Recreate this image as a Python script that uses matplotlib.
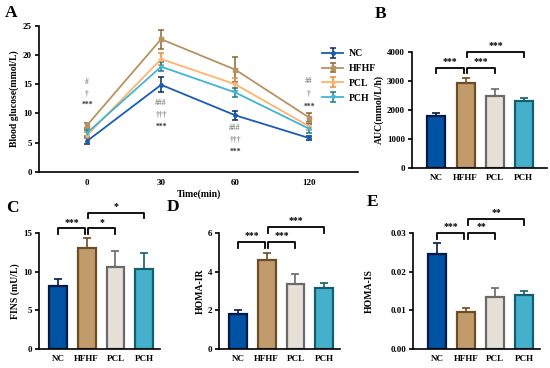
import matplotlib
matplotlib.use('Agg')
import matplotlib.pyplot as plt
import numpy as np

plt.rcParams['font.family'] = ['Liberation Serif', 'DejaVu Serif']
plt.rcParams['font.weight'] = 'bold'
plt.rcParams['axes.labelweight'] = 'bold'

groups = ['NC', 'HFHF', 'PCL', 'PCH']
times = ['0', '30', '60', '120']

# OGTT curves (mean, sd)
glu_mean = {
    'NC': [5.3, 14.9, 9.7, 5.8],
    'HFHF': [8.0, 22.7, 17.5, 9.3],
    'PCL': [6.3, 19.3, 15.0, 7.8],
    'PCH': [6.7, 18.0, 13.6, 7.4],
}
glu_sd = {
    'NC': [0.5, 1.3, 0.8, 0.4],
    'HFHF': [0.4, 1.6, 2.1, 0.7],
    'PCL': [0.5, 1.0, 1.1, 0.6],
    'PCH': [0.5, 0.8, 0.8, 0.8],
}
# significance marks on panel A: (time index, label, y)
glu_marks = [
    (0, '#', 15.4), (0, '†', 13.4), (0, '***', 11.4),
    (1, '###', 11.8), (1, '†††', 9.8), (1, '***', 7.8),
    (2, '###', 7.5), (2, '†††', 5.5), (2, '***', 3.4),
    (3, '##', 15.5), (3, '†', 13.4), (3, '***', 11.2),
]

auc_mean = [1790, 2920, 2490, 2300]
auc_sd = [110, 190, 240, 110]
fins_mean = [8.1, 13.0, 10.6, 10.4]
fins_sd = [0.9, 1.3, 2.1, 2.0]
ir_mean = [1.8, 4.58, 3.35, 3.15]
ir_sd = [0.2, 0.4, 0.55, 0.25]
is_mean = [0.0245, 0.0096, 0.0134, 0.0140]
is_sd = [0.0028, 0.0009, 0.0025, 0.0011]

line_col = {'NC': '#1a5cb0', 'HFHF': '#b8935f', 'PCL': '#ffb36e', 'PCH': '#3fb5d6'}
err_col = {'NC': '#0a2a60', 'HFHF': '#8a6535', 'PCL': '#e89040', 'PCH': '#1d7a8a'}
markers = {'NC': 'o', 'HFHF': 's', 'PCL': 'P', 'PCH': 'v'}
bar_face = ['#0052a2', '#c19b6c', '#e6e0d6', '#45b0cc']
bar_edge = ['#001a48', '#6e4d24', '#6a6a6a', '#145f6e']

W, H = 550, 368
fig = plt.figure(figsize=(5.5, 3.68), dpi=100)


def px_axes(left, right, top, bottom):
    return fig.add_axes([left / W, 1 - bottom / H, (right - left) / W, (bottom - top) / H])


def style(ax):
    for s in ['top', 'right']:
        ax.spines[s].set_visible(False)
    for s in ['left', 'bottom']:
        ax.spines[s].set_linewidth(1.2)
    ax.tick_params(width=1.2, length=3, labelsize=6.5, pad=2)


def bracket(ax, x1, x2, y, h, label):
    ax.plot([x1, x1, x2, x2], [y - h, y, y, y - h], color='black', lw=1.3, clip_on=False)
    ax.text((x1 + x2) / 2, y + h * 0.3, label, ha='center', va='bottom', fontsize=7, clip_on=False)


def bar_panel(ax, mean, sd, ymax, yticks, ylabel, ticklabels=None):
    x = np.arange(len(groups))
    ax.bar(x, mean, width=0.62, color=bar_face, edgecolor=bar_edge, linewidth=1.6, zorder=2)
    for i in range(len(groups)):
        ax.errorbar(x[i], mean[i], yerr=[[0], [sd[i]]], color=bar_edge[i], capsize=3,
                    elinewidth=1.2, capthick=1.2, zorder=1)
    style(ax)
    ax.set_ylim(0, ymax)
    ax.set_yticks(yticks)
    if ticklabels is not None:
        ax.set_yticklabels(ticklabels)
    ax.set_xticks(x)
    ax.set_xticklabels(groups)
    ax.tick_params(axis='x', length=0, pad=4)
    ax.set_ylabel(ylabel, fontsize=7, labelpad=2)


# Panel A
axA = px_axes(39, 358, 25.7, 172)
xi = np.arange(len(times))
for g in groups:
    axA.errorbar(xi, glu_mean[g], yerr=glu_sd[g], color=line_col[g], ecolor=err_col[g],
                 marker=markers[g], markersize=2.5, lw=1.3, capsize=2, elinewidth=1.1,
                 capthick=1.1, label=g)
for t, lab, y in glu_marks:
    col = '#333333' if lab == '***' else '#888888'
    axA.text(t, y, lab, ha='center', va='center', fontsize=5.5, color=col)
style(axA)
axA.set_ylim(0, 25)
axA.set_yticks([0, 5, 10, 15, 20, 25])
axA.set_xlim(-0.65, 3.66)
axA.set_xticks(xi)
axA.set_xticklabels(times)
axA.tick_params(axis='x', length=0, pad=5)
axA.set_xlabel('Time(min)', fontsize=7, labelpad=2)
axA.set_ylabel('Blood glucose(mmol/L)', fontsize=7, labelpad=3)
leg = axA.legend(loc='upper left', bbox_to_anchor=(0.86, 0.9), frameon=False, fontsize=7,
                 handlelength=2.2, labelspacing=0.6, handletextpad=0.6)

# Panel B
axB = px_axes(412, 547, 52, 168)
bar_panel(axB, auc_mean, auc_sd, 4000, [0, 1000, 2000, 3000, 4000], 'AUC(mmol/L/h)')
axB.set_xlim(-0.84, 3.8)
bracket(axB, 0, 0.94, 3450, 180, '***')
bracket(axB, 1.06, 2, 3450, 180, '***')
bracket(axB, 1.06, 3, 4000, 180, '***')

# Panel C
axC = px_axes(39, 160, 233, 349)
bar_panel(axC, fins_mean, fins_sd, 15, [0, 5, 10, 15], 'FINS (mU/L)')
axC.set_xlim(-0.66, 3.55)
bracket(axC, 0, 0.94, 15.6, 0.7, '***')
bracket(axC, 1.06, 2, 15.6, 0.7, '*')
bracket(axC, 1.06, 3, 17.6, 0.7, '*')

# Panel D
axD = px_axes(219, 340, 233, 349)
bar_panel(axD, ir_mean, ir_sd, 6, [0, 2, 4, 6], 'HOMA-IR')
axD.set_xlim(-0.66, 3.55)
bracket(axD, 0, 0.94, 5.55, 0.3, '***')
bracket(axD, 1.06, 2, 5.55, 0.3, '***')
bracket(axD, 1.06, 3, 6.3, 0.3, '***')

# Panel E
axE = px_axes(413, 540, 233, 349)
bar_panel(axE, is_mean, is_sd, 0.03, [0, 0.01, 0.02, 0.03], 'HOMA-IS',
          ['0.00', '0.01', '0.02', '0.03'])
axE.set_xlim(-0.84, 3.55)
axE.yaxis.labelpad = 12
bracket(axE, 0, 0.94, 0.0300, 0.0015, '***')
bracket(axE, 1.06, 2, 0.0300, 0.0015, '**')
bracket(axE, 1.06, 3, 0.0336, 0.0015, '**')

# panel letters
for lab, x, y in [('A', 5, 13), ('B', 375, 14), ('C', 6, 208), ('D', 167, 207), ('E', 367, 202)]:
    fig.text(x / W, 1 - y / H, lab, fontsize=12.5, fontweight='bold', va='center', ha='left')

fig.savefig('out.png', dpi=100)
